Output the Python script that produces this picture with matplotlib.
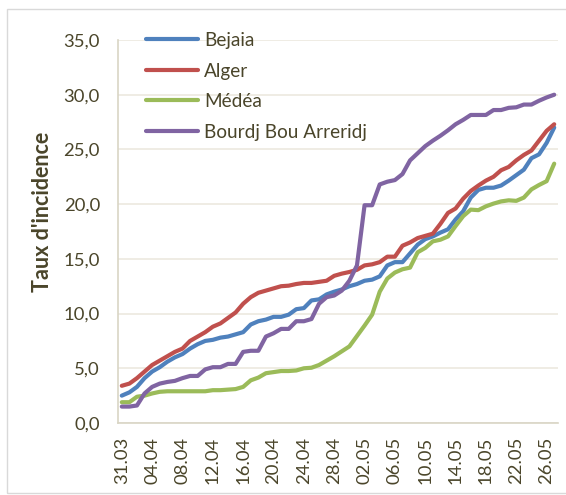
import matplotlib
matplotlib.use("Agg")
import matplotlib.pyplot as plt
from matplotlib.patches import Rectangle

# daily incidence rate, 31.03 -> 27.05 (58 days)
bejaia = [2.5, 2.8, 3.3, 4.1, 4.7, 5.1, 5.6, 6.0, 6.3, 6.8,
          7.2, 7.5, 7.6, 7.8, 7.9, 8.1, 8.3, 9.0, 9.3, 9.45,
          9.7, 9.7, 9.9, 10.4, 10.5, 11.2, 11.3, 11.75, 12.0, 12.2,
          12.5, 12.7, 13.0, 13.1, 13.4, 14.4, 14.7, 14.7, 15.5, 16.3,
          16.8, 17.05, 17.4, 17.7, 18.6, 19.35, 20.6, 21.3, 21.5, 21.5,
          21.7, 22.15, 22.65, 23.15, 24.2, 24.55, 25.6, 27.0]
alger = [3.4, 3.6, 4.1, 4.7, 5.3, 5.7, 6.1, 6.5, 6.8, 7.5,
         7.9, 8.3, 8.8, 9.1, 9.6, 10.1, 10.9, 11.5, 11.9, 12.1,
         12.3, 12.5, 12.55, 12.7, 12.8, 12.8, 12.9, 13.0, 13.45, 13.65,
         13.8, 14.0, 14.4, 14.5, 14.7, 15.2, 15.2, 16.2, 16.5, 16.9,
         17.1, 17.3, 18.2, 19.2, 19.6, 20.5, 21.2, 21.7, 22.15, 22.5,
         23.1, 23.4, 24.0, 24.5, 24.9, 25.8, 26.7, 27.3]
medea = [1.9, 1.9, 2.4, 2.5, 2.7, 2.85, 2.9, 2.9, 2.9, 2.9,
         2.9, 2.9, 3.0, 3.0, 3.05, 3.1, 3.3, 3.9, 4.15, 4.55,
         4.65, 4.75, 4.75, 4.8, 5.0, 5.05, 5.3, 5.7, 6.1, 6.55,
         7.0, 7.95, 8.9, 9.9, 12.0, 13.2, 13.75, 14.05, 14.2, 15.6,
         16.0, 16.6, 16.75, 17.05, 18.0, 18.9, 19.5, 19.45, 19.8, 20.05,
         20.25, 20.35, 20.3, 20.6, 21.35, 21.75, 22.1, 23.7]
bba = [1.5, 1.5, 1.6, 2.7, 3.3, 3.6, 3.75, 3.85, 4.1, 4.3,
       4.3, 4.9, 5.1, 5.1, 5.4, 5.4, 6.5, 6.6, 6.6, 7.9,
       8.2, 8.6, 8.6, 9.3, 9.3, 9.5, 10.9, 11.5, 11.65, 12.1,
       13.0, 14.4, 19.9, 19.9, 21.8, 22.05, 22.2, 22.75, 24.0, 24.65,
       25.3, 25.8, 26.25, 26.75, 27.3, 27.7, 28.15, 28.15, 28.15, 28.6,
       28.6, 28.8, 28.85, 29.1, 29.1, 29.45, 29.75, 30.0]

series_names = ["Bejaia", "Alger", "Médéa", "Bourdj Bou Arreridj"]
series_colors = ["#4F81BD", "#C0504D", "#9BBB59", "#8064A2"]

# one label every 4 days
tick_labels = ["31.03", "04.04", "08.04", "12.04", "16.04", "20.04", "24.04",
               "28.04", "02.05", "06.05", "10.05", "14.05", "18.05", "22.05",
               "26.05"]
y_ticks = [0, 5, 10, 15, 20, 25, 30, 35]

TEXT = "#4A452A"
GRID = "#ECE9DF"
AXIS = "#D9D5C5"

plt.rcParams["font.family"] = ["Lato", "DejaVu Sans"]

W, H = 566, 495
fig = plt.figure(figsize=(W / 100, H / 100), dpi=100)
ax = fig.add_axes([118 / W, 1 - 423 / H, 440 / W, 383 / H])

# chart area border
fig.patches.append(Rectangle((7 / W, 1 - 493 / H), 1.2, 484 / H,
                             transform=fig.transFigure, fill=False,
                             edgecolor="#D9D9D9", linewidth=1))

x = range(len(bejaia))
for vals, name, col in zip([bejaia, alger, medea, bba], series_names, series_colors):
    ax.plot(x, vals, color=col, linewidth=3, label=name,
            solid_joinstyle="round", solid_capstyle="round")

ax.set_xlim(-0.5, len(bejaia) - 0.5)
ax.set_ylim(0, 35)
ax.set_yticks(y_ticks)
ax.set_yticklabels([f"{v:.1f}".replace(".", ",") for v in y_ticks])
ax.set_xticks(range(0, 4 * len(tick_labels), 4))
ax.set_xticklabels(tick_labels, rotation=90)
ax.tick_params(axis="both", length=0, labelsize=13.3, colors=TEXT)
ax.tick_params(axis="y", pad=13)
ax.tick_params(axis="x", pad=10)

ax.grid(axis="y", color=GRID, linewidth=1.2)
ax.set_axisbelow(True)
for s in ["top", "right"]:
    ax.spines[s].set_visible(False)
for s in ["left", "bottom"]:
    ax.spines[s].set_color(AXIS)
    ax.spines[s].set_linewidth(1.2)

ax.set_ylabel("Taux d'incidence", fontsize=15.5, fontweight="bold", color=TEXT)
ax.yaxis.set_label_coords(-0.148, 0.55)

leg = ax.legend(loc="upper left", bbox_to_anchor=(146 / W, 1 - 32 / H),
                bbox_transform=fig.transFigure, frameon=False, fontsize=13.7,
                handlelength=2.75, handletextpad=0.3, labelspacing=0.71,
                borderpad=0, borderaxespad=0)
for t in leg.get_texts():
    t.set_color(TEXT)

plt.savefig("out.png", dpi=100)
